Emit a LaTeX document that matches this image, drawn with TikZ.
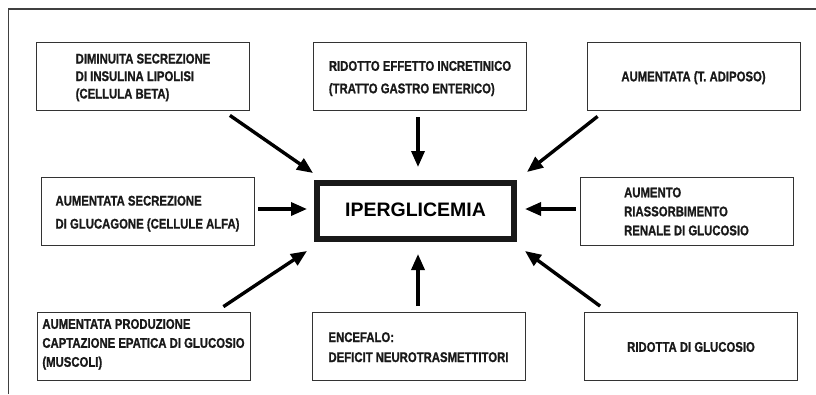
\documentclass[tikz,border=0pt]{standalone}
\usepackage{fontspec}
\setmainfont{Liberation Sans}
\newfontfamily\condfont[BoldFeatures={FakeBold=1.2}]{Liberation Sans}
\usepackage{graphicx}
\usepackage{tikz}
\usetikzlibrary{arrows.meta,positioning,calc}
\newcommand{\condtext}[2][-1.5pt]{\raisebox{#1}[\height][\depth]{%
  \scalebox{0.81}[1]{\begin{tabular}{@{}l@{}}#2\end{tabular}}}}

\begin{document}
\begin{tikzpicture}[x=1pt,y=-1pt,
    cause/.style={draw=black!80,line width=0.8pt,minimum width=213pt,minimum height=68pt,
      inner sep=0pt,text=black!90,
      font=\condfont\bfseries\fontsize{14}{19}\selectfont},
    hyper/.style={draw=black!90,line width=6pt,minimum width=197pt,minimum height=56pt,
      inner sep=0pt,font=\bfseries\fontsize{19.5}{22}\selectfont},
    push/.style={line width=3.4pt,-{Triangle[length=16pt,width=13pt]}}]
      \useasboundingbox (0,0) rectangle (816,394);
      \draw[black!75,line width=1.2pt] (8.5,394) -- (8.5,9) -- (816,9);

      \node[hyper] (iper) at (415.5,211) {\raisebox{1pt}[\height][\depth]{IPERGLICEMIA}};

      \node[cause,font=\condfont\bfseries\fontsize{14}{17.5}\selectfont] (b1) at (143,76)
        {\condtext{DIMINUITA SECREZIONE\\DI INSULINA LIPOLISI\\(CELLULA BETA)}};
      \node[cause,font=\condfont\bfseries\fontsize{14}{22.5}\selectfont] (b2) at (420,76)
        {\condtext{RIDOTTO EFFETTO INCRETINICO\\(TRATTO GASTRO ENTERICO)}};
      \node[cause] (b3) at (693.5,76) {\condtext{AUMENTATA (T. ADIPOSO)}};
      \node[cause,font=\condfont\bfseries\fontsize{14}{23}\selectfont] (b4) at (147.5,211)
        {\condtext{AUMENTATA SECREZIONE\\DI GLUCAGONE (CELLULE ALFA)}};
      \node[cause] (b5) at (686.5,211)
        {\condtext{AUMENTO\\RIASSORBIMENTO\\RENALE DI GLUCOSIO}};
      \node[cause] (b6) at (143.5,346)
        {\condtext[2pt]{AUMENTATA PRODUZIONE\\CAPTAZIONE EPATICA DI GLUCOSIO\\(MUSCOLI)}};
      \node[cause,font=\condfont\bfseries\fontsize{14}{20}\selectfont] (b7) at (418.5,346.5)
        {\condtext{ENCEFALO:\\DEFICIT NEUROTRASMETTITORI}};
      \node[cause] (b8) at (691,346.5) {\condtext{RIDOTTA DI GLUCOSIO}};

      \draw[push] ([shift={(-20,5)}]b1.south east) -- ([shift={(-1,-7)}]iper.north west);
      \draw[push] ([shift={(-2,7)}]b2.south) -- ([shift={(2.5,-13)}]iper.north);
      \draw[push] ([shift={(11,6)}]b3.south west) -- ([shift={(10,-8)}]iper.north east);
      \draw[push] ([shift={(4,-2)}]b4.east) -- ([shift={(-7,-2)}]iper.west);
      \draw[push] ([shift={(-4,-2)}]b5.west) -- ([shift={(8,-2)}]iper.east);
      \draw[push] ([shift={(-27,-5)}]b6.north east) -- ([shift={(-7,9)}]iper.south west);
      \draw[push] ([shift={(-0.5,-6)}]b7.north) -- ([shift={(2.5,12)}]iper.south);
      \draw[push] ([shift={(16,-6)}]b8.north west) -- ([shift={(8,9)}]iper.south east);
    \end{tikzpicture}
\end{document}
